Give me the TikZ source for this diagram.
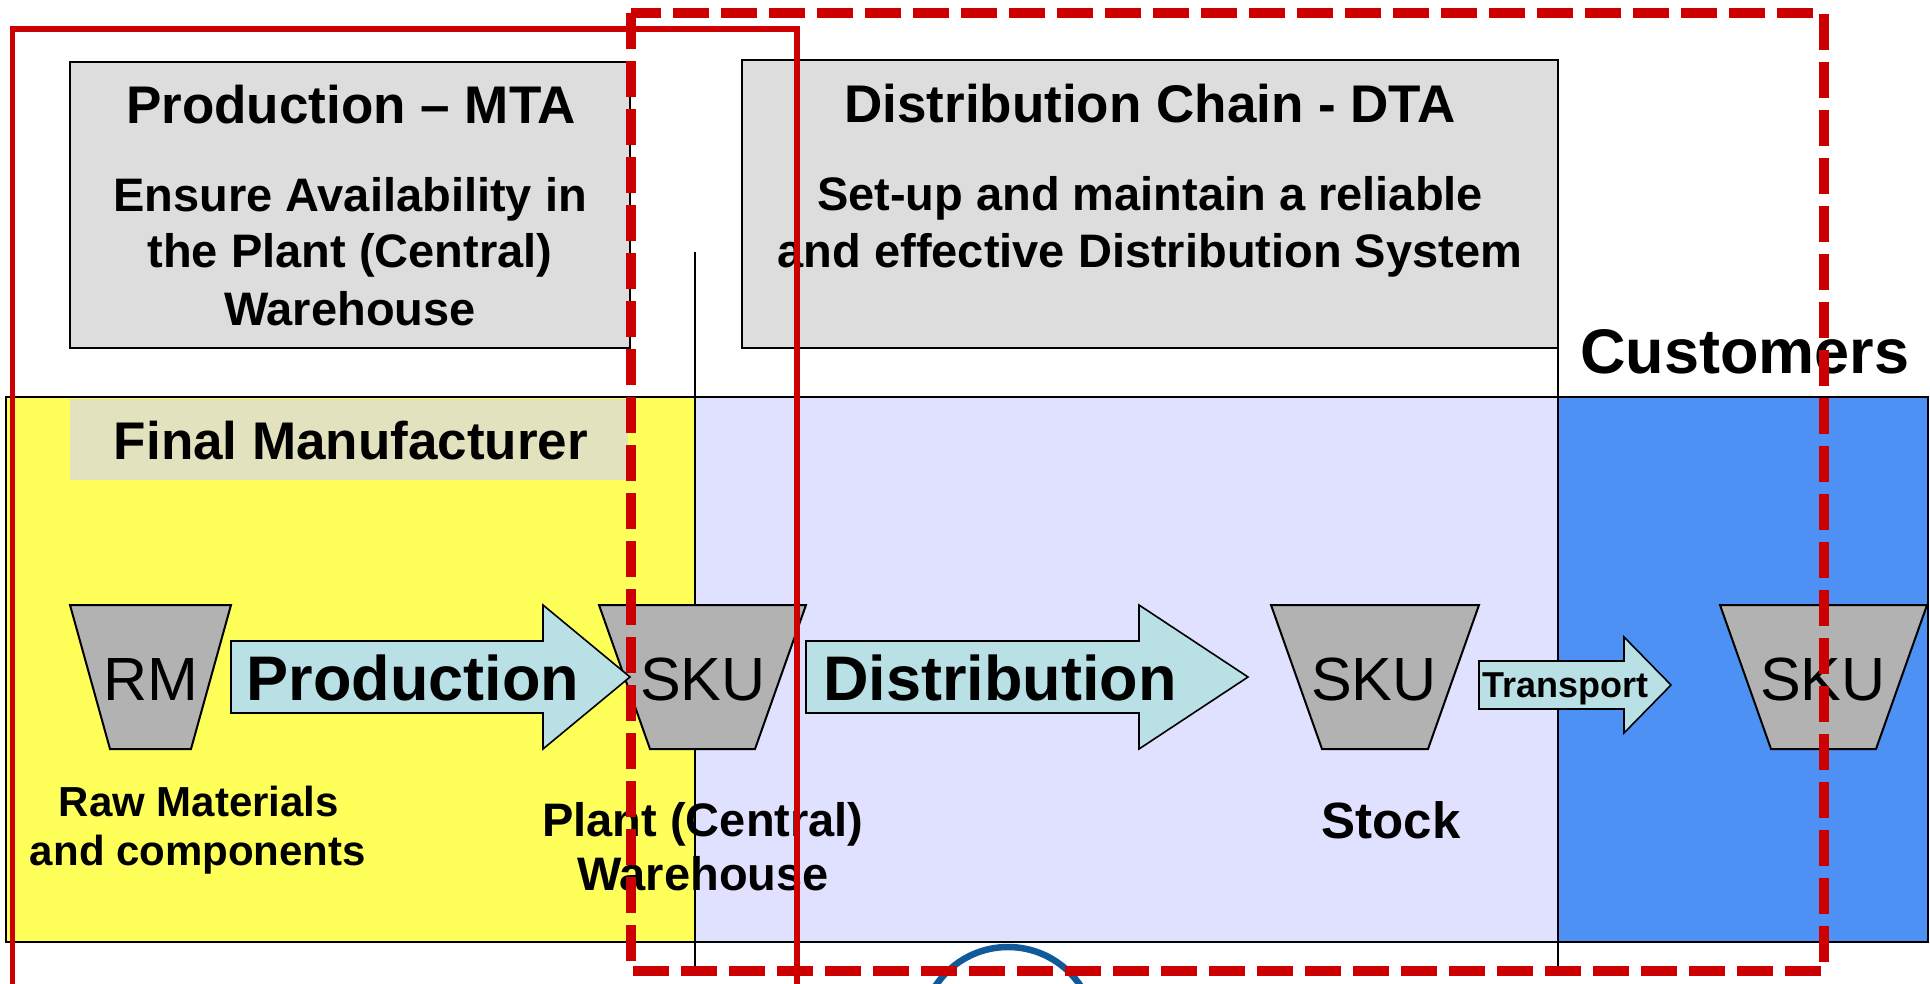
\documentclass[tikz,border=0pt]{standalone}
\usepackage{fontspec}
\setmainfont{Liberation Sans}
\definecolor{boxgray}{RGB}{221,221,221}
\definecolor{mfgyellow}{RGB}{255,255,90}
\definecolor{distlav}{RGB}{224,224,255}
\definecolor{custblue}{RGB}{77,145,245}
\definecolor{fmgray}{RGB}{226,226,190}
\definecolor{arrowcyan}{RGB}{185,224,228}
\definecolor{skugray}{RGB}{178,178,178}
\definecolor{scopered}{RGB}{204,0,0}
\definecolor{ringblue}{RGB}{16,90,156}
\newcommand\fsz[1]{\fontsize{#1}{#1}\selectfont}
\tikzset{
  titlebox/.style={draw=black, line width=2.5pt, fill=boxgray},
  band/.style={draw=black, line width=2pt},
  sepline/.style={draw=black, line width=1.6pt},
  funnel/.style={draw=black, line width=2pt, fill=skugray, line join=miter},
  blockarrow/.style={draw=black, line width=1.6pt, fill=arrowcyan, line join=miter},
  lbl/.style={inner sep=0pt, anchor=base},
  headtxt/.style={lbl, font=\fsz{53}\bfseries},
  subtxt/.style={lbl, font=\fsz{47}\bfseries},
  stocktxt/.style={lbl, font=\fsz{61}},
  flowtxt/.style={lbl, font=\fsz{63}\bfseries},
  scopesolid/.style={draw=scopered, line width=5.5pt},
  scopedash/.style={draw=scopered, line width=10pt, dash pattern=on 36pt off 12pt}
}
\begin{document}
\begin{tikzpicture}[x=1pt,y=-1pt]
\useasboundingbox (0,0) rectangle (1930,984);
\fill[white] (0,0) rectangle (1930,984);

% responsibility boxes
\draw[titlebox] (70,62) rectangle (630,348);
\draw[titlebox] (742,60) rectangle (1558,348);

% supply-chain band
\draw[band, fill=mfgyellow] (6,397) rectangle (695,942);
\draw[band, fill=distlav] (695,397) rectangle (1558,942);
\draw[band, fill=custblue] (1558,397) rectangle (1928,942);
\fill[fmgray] (70,399) rectangle (628,480);

% stage separators
\coordinate (sepAtop) at (695,252);
\coordinate (sepAbot) at (695,967);
\coordinate (sepBtop) at (1558,234);
\coordinate (sepBbot) at (1558,967);
\draw[sepline] (sepAtop) -- (sepAbot);
\draw[sepline] (sepBtop) -- (sepBbot);

% stock points
\draw[funnel] (70,605) -- (231,605) -- (191,749) -- (110,749) -- cycle;
\draw[funnel] (599,605) -- (806,605) -- (755,749) -- (650,749) -- cycle;
\draw[funnel] (1271,605) -- (1479,605) -- (1428,749) -- (1322,749) -- cycle;
\draw[funnel] (1720,605) -- (1927,605) -- (1876,749) -- (1771,749) -- cycle;

% flows
\draw[blockarrow] (231,641) -- (543,641) -- (543,605) -- (630,677) -- (543,749) -- (543,713) -- (231,713) -- cycle;
\draw[blockarrow] (806,641) -- (1139,641) -- (1139,605) -- (1248,677) -- (1139,749) -- (1139,713) -- (806,713) -- cycle;
\draw[blockarrow] (1479,661) -- (1624,661) -- (1624,637) -- (1671,685) -- (1624,733) -- (1624,709) -- (1479,709) -- cycle;

% box texts
\node[headtxt] (mtaT) at (351,124) {Production – MTA};
\node[subtxt] (mta1) at (350,212) {Ensure Availability in};
\node[subtxt] (mta2) at (350,268) {the Plant (Central)};
\node[subtxt] (mta3) at (350,326) {Warehouse};
\node[headtxt] (dtaT) at (1150,123) {Distribution Chain - DTA};
\node[subtxt] (dta1) at (1150,211) {Set-up and maintain a reliable};
\node[subtxt] (dta2) at (1150,268) {and effective Distribution System};
\node[lbl, font=\fsz{63}\bfseries] (cust) at (1745,373) {Customers};
\node[headtxt] (fm) at (351,459) {Final Manufacturer};

% stock point and flow texts
\node[stocktxt] (rm) at (151,700) {RM};
\node[stocktxt] (sku1) at (703,700) {SKU};
\node[stocktxt] (sku2) at (1374,700) {SKU};
\node[stocktxt] (sku3) at (1823,700) {SKU};
\node[flowtxt] (prod) at (413,700) {Production};
\node[flowtxt] (dist) at (1000,700) {Distribution};
\node[lbl, font=\fsz{36}\bfseries] (trans) at (1565,697) {Transport};

% captions
\node[lbl, font=\fsz{42}\bfseries] (raw1) at (199,816) {Raw Materials};
\node[lbl, font=\fsz{42}\bfseries] (raw2) at (198,865) {and components};
\node[subtxt] (pcw1) at (703,836) {Plant (Central)};
\node[subtxt] (pcw2) at (703,890) {Warehouse};
\node[lbl, font=\fsz{51}\bfseries] (stock) at (1391,838) {Stock};

% ring at the bottom edge
\begin{scope}
\clip (0,0) rectangle (1930,984);
\draw[ringblue, line width=6.5pt] (1008,1034) circle (87);
\end{scope}

% scope outlines
\draw[scopesolid] (12.5,29) rectangle (797,1000);
\draw[scopedash] (631,13) rectangle (1824,971);
\end{tikzpicture}
\end{document}
